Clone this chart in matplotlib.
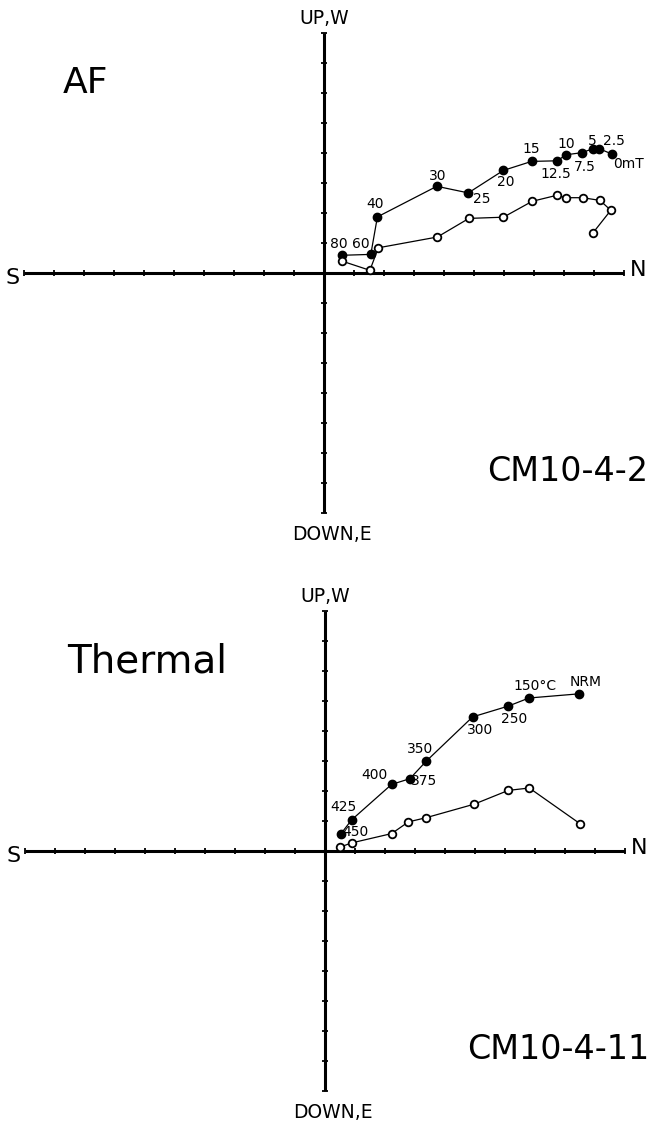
# -*- coding: utf-8 -*-
## Zijderveld diagrams: AF and thermal demagnetisation
from matplotlib import pyplot as plt
import numpy as np

## AF demagnetisation, CM10-4-2
af_steps = ["0mT", "2.5", "5", "7.5", "10", "12.5", "15", "20", "25", "30", "40", "60", "80"]
af_north_h = [9.61, 9.18, 8.96, 8.59, 8.06, 7.78, 6.92, 5.98, 4.81, 3.76, 1.78, 1.56, 0.59]
af_west = [3.96, 4.14, 4.14, 4.01, 3.94, 3.74, 3.72, 3.42, 2.67, 2.89, 1.87, 0.62, 0.59]
af_north_v = [8.96, 9.56, 9.20, 8.62, 8.06, 7.76, 6.94, 5.98, 4.83, 3.78, 1.81, 1.53, 0.59]
af_up = [1.33, 2.09, 2.42, 2.51, 2.51, 2.59, 2.39, 1.86, 1.82, 1.20, 0.84, 0.09, 0.40]

## thermal demagnetisation, CM10-4-11
th_steps = ["NRM", "150°C", "250", "300", "350", "375", "400", "425", "450"]
th_north_h = [8.48, 6.80, 6.11, 4.92, 3.37, 2.83, 2.22, 0.89, 0.52]
th_west = [5.24, 5.10, 4.83, 4.47, 2.99, 2.41, 2.22, 1.04, 0.56]
th_north_v = [8.50, 6.81, 6.11, 4.97, 3.37, 2.78, 2.22, 0.89, 0.50]
th_up = [0.91, 2.10, 2.02, 1.56, 1.11, 0.97, 0.58, 0.27, 0.13]

## label offsets in pixels (dx, dy)
af_offsets = [(16, -10), (15, 8), (0, 8), (3, -14), (0, 11), (-2, -13), (0, 12),
              (2, -12), (13, -6), (1, 10), (-2, 13), (-10, 10), (-3, 11)]
th_offsets = [(6, 12), (6, 12), (6, -13), (7, -13), (-6, 12), (14, -2),
              (-17, 9), (-8, 13), (15, 2)]

W, H = 663, 1123
fig = plt.figure(figsize=(W / 100, H / 100), dpi=100)
FONT = "DejaVu Sans"


def draw_panel(rect, xlim, ylim, nh, w, nv, up, steps, offsets,
               method, sample, method_pos, method_size):
    ax = fig.add_axes(rect)
    ax.set_xlim(*xlim)
    ax.set_ylim(*ylim)
    ax.axis("off")

    # axes with small cross ticks
    ax.plot([-10, 10], [0, 0], color="black", lw=2.2, solid_capstyle="butt", zorder=1)
    ax.plot([0, 0], [-8, 8], color="black", lw=2.2, solid_capstyle="butt", zorder=1)
    xt = np.arange(-10, 11)
    yt = np.arange(-8, 9)
    ax.plot(xt, np.zeros_like(xt), ls="none", marker="|", ms=5, mew=1.3, color="black")
    ax.plot(np.zeros_like(yt), yt, ls="none", marker="_", ms=5, mew=1.3, color="black")

    ax.text(-10.15, -0.15, "S", ha="right", va="center", fontsize=16, family=FONT)
    ax.text(10.2, 0.1, "N", ha="left", va="center", fontsize=16, family=FONT)
    ax.text(0, 8.3, "UP,W", ha="center", va="baseline", fontsize=13.5, family=FONT)
    ax.text(0.25, -8.9, "DOWN,E", ha="center", va="baseline", fontsize=13.5, family=FONT)

    # horizontal projection (filled) and vertical projection (open)
    ax.plot(nh, w, color="black", lw=0.9, marker="o", ms=6, mfc="black", mec="black", zorder=3)
    ax.plot(nv, up, color="black", lw=0.9, marker="o", ms=5.5, mfc="white", mec="black",
            mew=1.3, zorder=3)

    for x, y, s, (dx, dy) in zip(nh, w, steps, offsets):
        ax.annotate(s, (x, y), xytext=(dx, dy), textcoords="offset pixels",
                    ha="center", va="center", fontsize=10, family=FONT)

    ax.text(method_pos[0], method_pos[1], method, ha="left", va="baseline",
            fontsize=method_size, family=FONT)
    ax.text(10.8, -6.93, sample, ha="right", va="baseline", fontsize=24, family=FONT)
    return ax


## top panel: origin at pixel (324, 273), 30 px per unit
top_h = 560
draw_panel([0, 1 - top_h / H, 1, top_h / H],
           (-324 / 30, (W - 324) / 30), (-(top_h - 273) / 30, 273 / 30),
           af_north_h, af_west, af_north_v, af_up, af_steps, af_offsets,
           "AF", "CM10-4-2", (-8.7, 6.0), 26)

## bottom panel: origin at pixel (325, 851)
bot_h = H - top_h
o_y = 851 - top_h
draw_panel([0, 0, 1, bot_h / H],
           (-325 / 30, (W - 325) / 30), (-(bot_h - o_y) / 30, o_y / 30),
           th_north_h, th_west, th_north_v, th_up, th_steps, th_offsets,
           "Thermal", "CM10-4-11", (-8.6, 5.95), 28)

plt.savefig("out.png", dpi=100)
